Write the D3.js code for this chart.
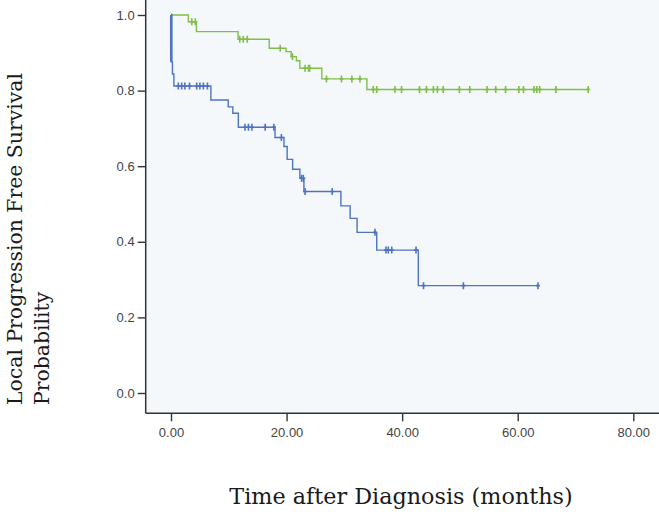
<!DOCTYPE html>
<html>
<head>
<meta charset="utf-8">
<script src="https://cdn.jsdelivr.net/npm/d3@7"></script>
<style>
  body { margin: 0; background: #fff; }
  svg { display: block; }
</style>
</head>
<body>
<svg width="659" height="525"></svg>
<script>
// Kaplan-Meier steps: [months, survival after drop]
var greenSteps = [[0, 1.0], [3.0, 0.982], [4.4, 0.956], [11.6, 0.936], [17.0, 0.912], [19.9, 0.903],
  [20.8, 0.890], [21.7, 0.879], [22.3, 0.859], [26.1, 0.831], [33.9, 0.803]]
var greenEnd = 72.2
var greenCensor = [3.6, 4.2, 11.9, 12.5, 13.2, 18.9, 21.0, 23.2, 23.8, 24.0, 26.9, 29.5, 31.3, 32.7,
  35.0, 35.6, 38.75, 39.9, 43.0, 44.2, 45.4, 46.1, 47.1, 49.9, 51.7, 54.7, 56.2, 57.9, 60.2, 61.0,
  62.8, 63.3, 63.8, 66.6, 72.2]

var blueSteps = [[0, 1.0], [0.05, 0.876], [0.25, 0.844], [0.5, 0.812], [6.9, 0.775], [9.9, 0.757],
  [10.7, 0.740], [11.65, 0.703], [18.0, 0.676], [19.55, 0.652], [20.1, 0.618], [21.05, 0.592],
  [22.3, 0.568], [23.0, 0.533], [29.4, 0.495], [31.0, 0.462], [32.2, 0.425], [35.6, 0.378], [42.8, 0.284]]
var blueEnd = 63.5
var blueCensor = [1.27, 1.85, 2.4, 3.2, 4.45, 5.0, 5.6, 6.3, 12.8, 13.4, 14.0, 16.3, 17.8, 19.1,
  22.6, 22.9, 23.2, 27.9, 35.3, 37.2, 37.6, 38.2, 42.4, 43.7, 50.6, 63.5]

var xTicks = [0, 20, 40, 60, 80]
var yTicks = [0, 0.2, 0.4, 0.6, 0.8, 1.0]

var svg = d3.select('svg')
var axisX = 145.7, axisY = 413.3

var x = d3.scaleLinear().domain([0, 80]).range([171, 633.3])
var y = d3.scaleLinear().domain([0, 1]).range([393, 15])

// plot background
svg.append('rect')
  .attr('x', axisX).attr('y', 0)
  .attr('width', 659 - axisX).attr('height', axisY)
  .attr('fill', '#f4f8fb')

function survAt(steps, t) {
  var s = steps[0][1]
  steps.forEach(d => { if (d[0] <= t) s = d[1] })
  return s
}

var line = d3.line()
  .x(d => x(d[0]))
  .y(d => y(d[1]))
  .curve(d3.curveStepAfter)

var groups = [
  {steps: greenSteps, end: greenEnd, censor: greenCensor, color: '#7fbf45'},
  {steps: blueSteps, end: blueEnd, censor: blueCensor, color: '#4f72c2'}
]

groups.forEach(g => {
  var pts = g.steps.concat([[g.end, g.steps[g.steps.length - 1][1]]])
  svg.append('path')
    .attr('d', line(pts))
    .attr('fill', 'none')
    .attr('stroke', g.color)
    .attr('stroke-width', 1.4)
  svg.append('g')
    .selectAll('path')
    .data(g.censor)
    .enter()
    .append('path')
    .attr('d', t => {
      var cx = x(t), cy = y(survAt(g.steps, t))
      return `M${cx},${cy - 3.5}V${cy + 3.5}M${cx - 2},${cy}H${cx + 2}`
    })
    .attr('stroke', g.color)
    .attr('stroke-width', 1.6)
})

// thick bundle of early drops on the blue curve
svg.append('path')
  .attr('d', line([[0, 1.0], [0.05, 0.876]]))
  .attr('stroke', '#4f72c2')
  .attr('stroke-width', 2.6)
  .attr('fill', 'none')

// axes
var yAxis = svg.append('g')
  .attr('transform', `translate(${axisX},0)`)
  .call(d3.axisLeft(y).tickValues(yTicks).tickFormat(d3.format('.1f')).tickSize(8).tickPadding(3))
var xAxis = svg.append('g')
  .attr('transform', `translate(0,${axisY})`)
  .call(d3.axisBottom(x).tickValues(xTicks).tickFormat(d3.format('.2f')).tickSize(8).tickPadding(6))
;[yAxis, xAxis].forEach(a => {
  a.select('.domain').remove()
  a.selectAll('.tick line').attr('stroke', '#333').attr('stroke-width', 1.4)
  a.selectAll('.tick text')
    .attr('fill', '#444')
    .style('font', '13px "Liberation Sans", Arial, sans-serif')
})

svg.append('line')
  .attr('x1', axisX).attr('x2', axisX).attr('y1', 0).attr('y2', axisY)
  .attr('stroke', '#333').attr('stroke-width', 1.5)
svg.append('line')
  .attr('x1', axisX).attr('x2', 659).attr('y1', axisY).attr('y2', axisY)
  .attr('stroke', '#333').attr('stroke-width', 1.5)

// titles
svg.append('text')
  .attr('x', 401).attr('y', 504)
  .attr('text-anchor', 'middle')
  .attr('fill', '#1a1a1a')
  .style('font', '22.3px "DejaVu Serif", serif')
  .text('Time after Diagnosis (months)')

var yTitle = svg.append('text')
  .attr('transform', 'translate(22,405) rotate(-90)')
  .attr('fill', '#1a1a1a')
  .style('font', '20.4px "DejaVu Serif", serif')
yTitle.append('tspan').attr('x', 0).attr('y', 0).text('Local Progression Free Survival')
yTitle.append('tspan').attr('x', 0).attr('y', 27).text('Probability')
</script>
</body>
</html>
